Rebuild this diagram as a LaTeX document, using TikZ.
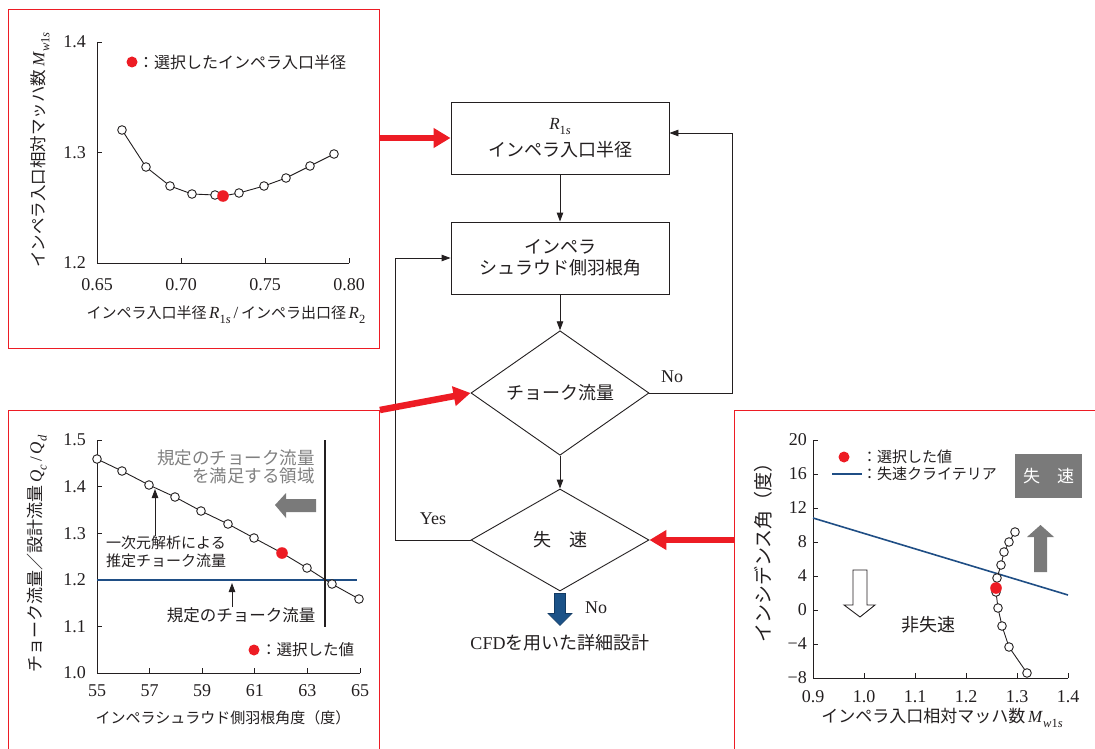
\documentclass[tikz,border=0pt]{standalone}
\usepackage{fontspec}
\setmainfont{Liberation Serif}
\newfontfamily\jp{Noto Sans CJK JP}
\usetikzlibrary{arrows.meta,shapes.geometric}
\definecolor{redA}{HTML}{ED1C24}
\definecolor{blueL}{HTML}{1F4E85}
\definecolor{blueA}{HTML}{1B5288}
\definecolor{blueD}{HTML}{123A63}
\definecolor{grayT}{HTML}{808080}
\definecolor{grayB}{HTML}{7A7A7A}
\definecolor{ink}{HTML}{231F20}
\newcommand\fsz[1]{\fontsize{#1}{#1}\selectfont}
\newcommand\lsub[1]{\raisebox{-0.28em}{\fsz{12.5}#1}}
\newcommand\Mws{\textit{M}\lsub{\textit{w}1\textit{s}}}
\newcommand\Rs{\textit{R}\lsub{1\textit{s}}}
\begin{document}
\begin{tikzpicture}[x=1pt,y=-1pt,
  frame/.style={draw=redA, line width=0.9pt, anchor=north west, inner sep=0pt},
  fbox/.style={draw=ink, line width=0.9pt, minimum width=218pt, minimum height=72pt, inner sep=0pt, align=center, font=\jp\fsz{18}, text=ink},
  fdia/.style={draw=ink, line width=0.9pt, diamond, minimum width=178pt, minimum height=102pt, inner sep=0pt, font=\jp\fsz{18}, text=ink},
  arr/.style={draw=ink, line width=0.9pt, -{Triangle[length=9pt,width=6.5pt]}},
  redarr/.style={draw=redA, line width=6.5pt, -{Triangle[length=17pt,width=19pt]}},
  axis/.style={draw=ink, line width=0.9pt},
  tk/.style={font=\fsz{18}, text=ink, inner sep=0pt},
  lbl/.style={font=\jp\fsz{15}, text=ink, inner sep=0pt},
  latl/.style={font=\fsz{18}, text=ink, inner sep=0pt},
  opt/.style={draw=ink, line width=0.9pt, fill=white},
  sel/.style={fill=redA, draw=none},
  datal/.style={draw=ink, line width=0.9pt}
]
\useasboundingbox (0,0) rectangle (1095,749);
\clip (0,0) rectangle (1095,749);
\fill[white] (0,0) rectangle (1095,749);

% ---------------- panel frames
\node[frame, minimum width=371pt, minimum height=339pt] (p1) at (8,9) {};
\node[frame, minimum width=371pt, minimum height=400pt] (p2) at (8,410) {};
\node[frame, minimum width=400pt, minimum height=400pt] (p3) at (734,410) {};

% ---------------- flowchart
\node[fbox] (b1) at (560,138) {{\rmfamily\fsz{17}\Rs}\\[6pt]インペラ入口半径};
\node[fbox] (b2) at (560,258) {インペラ\\[3pt]シュラウド側羽根角};
\node[fdia] (d1) at (560,393) {チョーク流量};
\node[fdia] (d2) at (560,540) {失　速};
\node[font=\jp\fsz{18}, text=ink, inner sep=0pt] (cfd) at (560,643) {{\rmfamily\fsz{18}CFD}を用いた詳細設計};

\draw[arr] (b1.south) -- (b2.north);
\draw[arr] (b2.south) -- (d1.north);
\draw[arr] (d1.south) -- (d2.north);
\path (b1.east) ++(0,-5) coordinate (b1in);
\draw[arr] (d1.east) -- ++(83,0) |- (b1in);
\draw[arr] (d2.west) -- ++(-75,0) |- (b2.west);
\node[latl] (no1) at (672,377) {No};
\node[latl] (yes) at (433,519) {Yes};
\node[latl] (no2) at (596,608) {No};

% blue block arrow
\draw[fill=blueA, draw=blueD, line width=0.6pt]
  (d2.south) ++(-5.5,2) -- ++(0,20) -- ++(-6.5,0) -- ++(12,12) -- ++(12,-12) -- ++(-6.5,0) -- ++(0,-20) -- cycle;

% red connectors
\draw[redarr] (p1.east |- b1.west) -- (b1.west);
\draw[redarr] (p2.north east) -- (d1.west);
\draw[redarr] (p3.west |- d2.east) -- (d2.east);

% ---------------- plot 1
\draw[axis] (97,42) -- (97,263) -- (349,263);
\foreach \y in {42,152.5} \draw[axis] (97,\y) -- ++(5,0);
\foreach \x in {181,265,349} \draw[axis] (\x,263) -- ++(0,-5);
\node[tk, anchor=east] (y14) at (86,42) {1.4};
\node[tk, anchor=east] (y13) at (86,152.5) {1.3};
\node[tk, anchor=east] (y12) at (86,263) {1.2};
\node[tk] (x065) at (97,285) {0.65};
\node[tk] (x070) at (181,285) {0.70};
\node[tk] (x075) at (265,285) {0.75};
\node[tk] (x080) at (349,285) {0.80};
\draw[datal] (122,130) -- (146,167) -- (170,186) -- (192,194) -- (215,195) -- (223,196) -- (239,193) -- (264,186) -- (286,178) -- (310,166) -- (334,154);
\foreach \p in {(122,130),(146,167),(170,186),(192,194),(215,195),(239,193),(264,186),(286,178),(310,166),(334,154)}
  \draw[opt] \p circle[radius=4.3pt];
\fill[sel] (223,196) circle[radius=5.8pt];
\fill[sel] (132,62) circle[radius=5.5pt];
\node[lbl, font=\jp\fsz{16}, anchor=west] (leg1) at (138,62) {：選択したインペラ入口半径};
\node[lbl, font=\jp\fsz{16.5}, rotate=90] (ylab1) at (40,150) {インペラ入口相対マッハ数\,{\rmfamily\fsz{17}\Mws}};
\node[lbl] (xlab1) at (226,315) {インペラ入口半径\,{\rmfamily\fsz{17}\Rs\,/\,}インペラ出口径\,{\rmfamily\fsz{17}\textit{R}\lsub{2}}};

% ---------------- plot 2
\draw[axis] (97,440) -- (97,673) -- (360,673);
\foreach \y in {440,486.6,533.2,579.8,626.4} \draw[axis] (97,\y) -- ++(5,0);
\foreach \x in {149.6,202.2,254.8,307.4,360} \draw[axis] (\x,673) -- ++(0,-5);
\foreach \v/\y in {1.5/440,1.4/486.6,1.3/533.2,1.2/579.8,1.1/626.4,1.0/673}
  \node[tk, anchor=east] at (86,\y) {\v};
\foreach \v/\x in {55/97,57/149.6,59/202.2,61/254.8,63/307.4,65/360}
  \node[tk] at (\x,691) {\v};
\draw[draw=blueL, line width=1.6pt] (97,579.8) -- (357,579.8);
\draw[draw=ink, line width=1.8pt] (325,440) -- (325,627);
\draw[datal] (97,459) -- (122,471) -- (149,485) -- (175,497) -- (201,511) -- (228,524) -- (254,538) -- (282,553) -- (307,568) -- (332,584) -- (359,599);
\foreach \p in {(97,459),(122,471),(149,485),(175,497),(201,511),(228,524),(254,538),(307,568),(332,584),(359,599)}
  \draw[opt] \p circle[radius=4.3pt];
\fill[sel] (282,553) circle[radius=5.8pt];
\node[lbl, font=\jp\fsz{17.5}, text=grayT, align=right, anchor=east] (reg) at (315,467) {規定のチョーク流量\\[1pt]を満足する領域};
\fill[grayB] (275,505) -- (286,493) -- (286,499) -- (316,499) -- (316,512) -- (286,512) -- (286,518) -- cycle;
\node[lbl, align=center] (est) at (166,552) {一次元解析による\\[3pt]推定チョーク流量};
\draw[arr] (est.north -| 155,0) -- (155,489);
\node[lbl, font=\jp\fsz{16.5}] (spec) at (241,615) {規定のチョーク流量};
\draw[arr] (spec.north -| 232,0) -- (232,583);
\fill[sel] (254,650) circle[radius=5.5pt];
\node[lbl, font=\jp\fsz{15.5}, anchor=west] (leg2) at (261,650) {：選択した値};
\node[lbl, font=\jp\fsz{17}, rotate=90] (ylab2) at (37,554) {チョーク流量／設計流量\,{\rmfamily\fsz{17}\textit{Q}\lsub{\textit{c}}\,/\,\textit{Q}\lsub{\textit{d}}}};
\node[lbl] (xlab2) at (223,718) {インペラシュラウド側羽根角度（度）};

% ---------------- plot 3
\draw[axis] (813,440) -- (813,678) -- (1068,678);
\foreach \y in {440,474,508,542,576,610,644} \draw[axis] (813,\y) -- ++(5,0);
\foreach \x in {864,915,966,1017,1068} \draw[axis] (\x,678) -- ++(0,-5);
\foreach \v/\y in {20/440,16/474,12/508,8/542,4/576,0/610,−4/644,−8/678}
  \node[tk, anchor=east] at (807,\y) {\v};
\foreach \v/\x in {0.9/813,1.0/864,1.1/915,1.2/966,1.3/1017,1.4/1068}
  \node[tk] at (\x,697) {\v};
\draw[draw=blueL, line width=1.6pt] (813,518) -- (1068,595);
\draw[datal] (1027,673) -- (1009,647) -- (1002,626) -- (998,608) -- (996,592) -- (997,578) -- (1001,565) -- (1004,552) -- (1009,542) -- (1015,532);
\foreach \p in {(1027,673),(1009,647),(1002,626),(998,608),(996,592),(997,578),(1001,565),(1004,552),(1009,542),(1015,532)}
  \draw[opt] \p circle[radius=4.3pt];
\fill[sel] (996,588) circle[radius=5.8pt];
\fill[sel] (844,457) circle[radius=5.5pt];
\node[lbl, anchor=west] (leg3a) at (862,457) {：選択した値};
\draw[draw=blueL, line width=1.6pt] (832,474) -- (862,474);
\node[lbl, anchor=west] (leg3b) at (862,474) {：失速クライテリア};
\node[fill=grayB, minimum width=67pt, minimum height=44pt, inner sep=0pt, text=white, font=\jp\fsz{17}] (stall) at (1048.5,476) {失　速};
\fill[grayB] (1040.5,525) -- (1054,537) -- (1047,537) -- (1047,572) -- (1034,572) -- (1034,537) -- (1027,537) -- cycle;
\draw[draw=ink, line width=0.9pt, fill=white] (853,570) -- (867,570) -- (867,605) -- (875,605) -- (860,617) -- (844,605) -- (853,605) -- cycle;
\node[lbl, font=\jp\fsz{18}] (nonstall) at (928,625) {非失速};
\node[lbl, font=\jp\fsz{19}, rotate=90] (ylab3) at (763,548) {インシデンス角（度）};
\node[lbl, font=\jp\fsz{17}] (xlab3) at (942,718) {インペラ入口相対マッハ数\,{\rmfamily\fsz{17}\Mws}};
\end{tikzpicture}
\end{document}
